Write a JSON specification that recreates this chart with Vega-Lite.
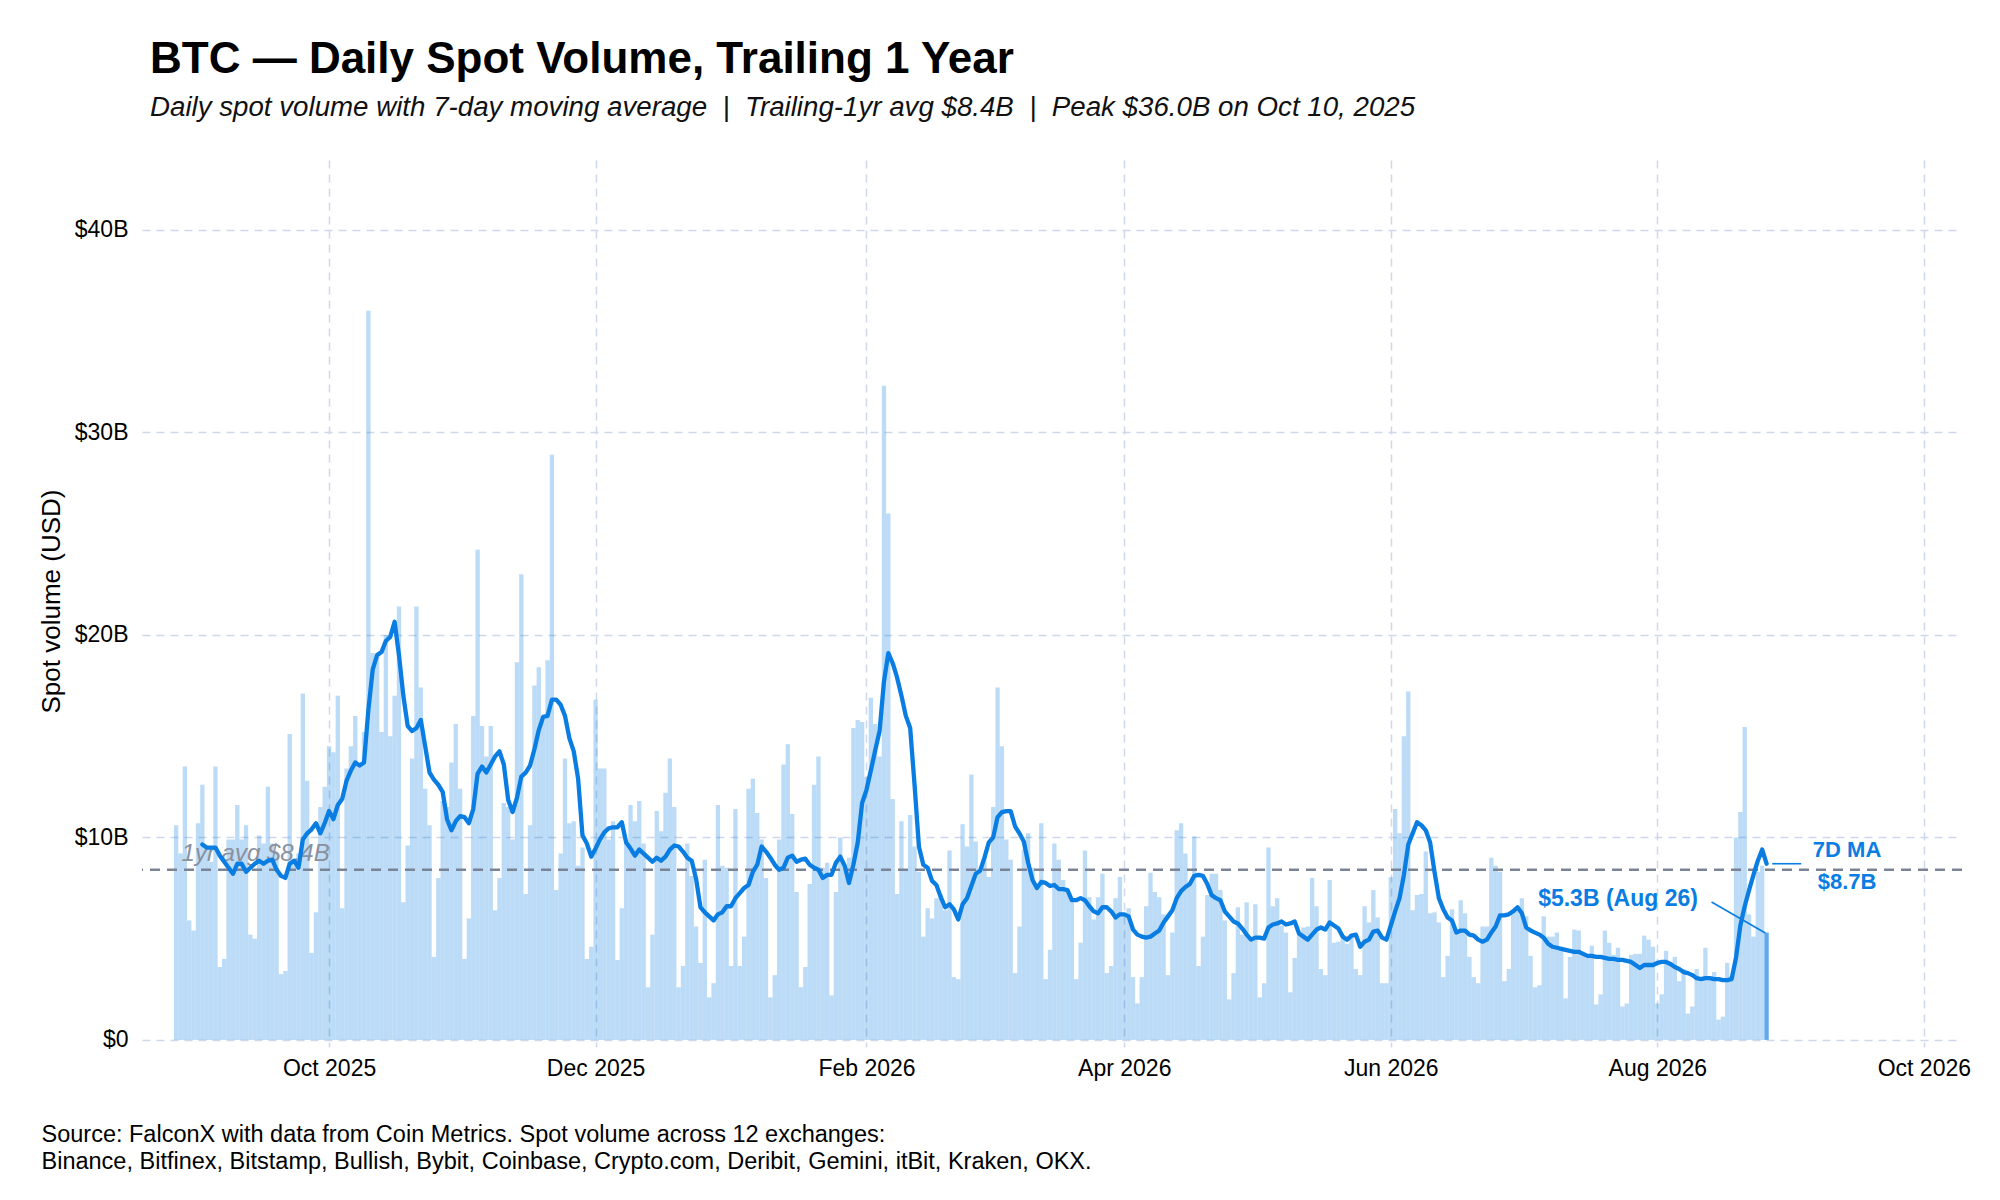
{
"$schema": "https://vega.github.io/schema/vega-lite/v6.json",
"width": 1820,
"height": 887,
"autosize": {"type": "none"},
"padding": {"left": 142, "top": 160, "right": 38, "bottom": 153},
"background": "white",
"config": {"font": "Liberation Sans", "view": {"stroke": null}},
"title": {
  "text": "BTC — Daily Spot Volume, Trailing 1 Year",
  "subtitle": "Daily spot volume with 7-day moving average\u00a0\u00a0|\u00a0\u00a0Trailing-1yr avg $8.4B\u00a0\u00a0|\u00a0\u00a0Peak $36.0B on Oct 10, 2025",
  "anchor": "start", "frame": "group", "dx": 8,
  "fontSize": 44, "fontWeight": "bold", "color": "#000000",
  "subtitleFontSize": 27.7, "subtitleFontStyle": "italic", "subtitleColor": "#111111",
  "subtitlePadding": 12, "offset": 38
},
"data": {"values": [
{"d":"2025-08-27","v":10.6,"m":null},{"d":"2025-08-28","v":9.2,"m":null},{"d":"2025-08-29","v":13.5,"m":null},{"d":"2025-08-30","v":5.9,"m":null},{"d":"2025-08-31","v":5.4,"m":null},
{"d":"2025-09-01","v":10.7,"m":null},{"d":"2025-09-02","v":12.6,"m":9.65},{"d":"2025-09-03","v":9.5,"m":9.5},{"d":"2025-09-04","v":8.8,"m":9.5},{"d":"2025-09-05","v":13.5,"m":9.5},{"d":"2025-09-06","v":3.6,"m":9.1},{"d":"2025-09-07","v":4.0,"m":8.8},{"d":"2025-09-08","v":9.9,"m":8.5},{"d":"2025-09-09","v":9.9,"m":8.2},{"d":"2025-09-10","v":11.6,"m":8.7},{"d":"2025-09-11","v":9.9,"m":8.7},{"d":"2025-09-12","v":10.6,"m":8.3},{"d":"2025-09-13","v":5.2,"m":8.5},{"d":"2025-09-14","v":5.0,"m":8.7},{"d":"2025-09-15","v":10.1,"m":8.85},{"d":"2025-09-16","v":9.7,"m":8.7},{"d":"2025-09-17","v":12.5,"m":8.85},{"d":"2025-09-18","v":9.7,"m":8.9},{"d":"2025-09-19","v":9.2,"m":8.4},{"d":"2025-09-20","v":3.25,"m":8.1},{"d":"2025-09-21","v":3.4,"m":8.0},{"d":"2025-09-22","v":15.1,"m":8.7},{"d":"2025-09-23","v":8.8,"m":8.85},{"d":"2025-09-24","v":9.2,"m":8.5},{"d":"2025-09-25","v":17.1,"m":9.9},{"d":"2025-09-26","v":12.8,"m":10.2},{"d":"2025-09-27","v":4.3,"m":10.4},{"d":"2025-09-28","v":6.3,"m":10.7},{"d":"2025-09-29","v":11.5,"m":10.2},{"d":"2025-09-30","v":12.5,"m":10.7},
{"d":"2025-10-01","v":14.5,"m":11.3},{"d":"2025-10-02","v":14.2,"m":10.9},{"d":"2025-10-03","v":17.0,"m":11.6},{"d":"2025-10-04","v":6.5,"m":11.9},{"d":"2025-10-05","v":13.4,"m":12.8},{"d":"2025-10-06","v":14.5,"m":13.3},{"d":"2025-10-07","v":16.0,"m":13.7},{"d":"2025-10-08","v":13.5,"m":13.55},{"d":"2025-10-09","v":15.2,"m":13.7},{"d":"2025-10-10","v":36.0,"m":16.3},{"d":"2025-10-11","v":19.1,"m":18.3},{"d":"2025-10-12","v":19.0,"m":19.0},{"d":"2025-10-13","v":15.2,"m":19.15},{"d":"2025-10-14","v":20.0,"m":19.7},{"d":"2025-10-15","v":15.0,"m":19.9},{"d":"2025-10-16","v":17.0,"m":20.65},{"d":"2025-10-17","v":21.4,"m":19.0},{"d":"2025-10-18","v":6.8,"m":17.0},{"d":"2025-10-19","v":9.6,"m":15.5},{"d":"2025-10-20","v":13.9,"m":15.25},{"d":"2025-10-21","v":21.4,"m":15.4},{"d":"2025-10-22","v":17.4,"m":15.8},{"d":"2025-10-23","v":12.4,"m":14.5},{"d":"2025-10-24","v":10.6,"m":13.2},{"d":"2025-10-25","v":4.1,"m":12.85},{"d":"2025-10-26","v":8.0,"m":12.6},{"d":"2025-10-27","v":11.8,"m":12.25},{"d":"2025-10-28","v":11.5,"m":10.9},{"d":"2025-10-29","v":13.7,"m":10.35},{"d":"2025-10-30","v":15.6,"m":10.8},{"d":"2025-10-31","v":12.4,"m":11.05},
{"d":"2025-11-01","v":4.0,"m":11.0},{"d":"2025-11-02","v":6.0,"m":10.7},{"d":"2025-11-03","v":16.0,"m":11.4},{"d":"2025-11-04","v":24.2,"m":13.15},{"d":"2025-11-05","v":15.5,"m":13.5},{"d":"2025-11-06","v":14.0,"m":13.2},{"d":"2025-11-07","v":15.5,"m":13.6},{"d":"2025-11-08","v":6.4,"m":14.0},{"d":"2025-11-09","v":8.0,"m":14.25},{"d":"2025-11-10","v":11.7,"m":13.6},{"d":"2025-11-11","v":11.5,"m":11.85},{"d":"2025-11-12","v":9.9,"m":11.25},{"d":"2025-11-13","v":18.65,"m":11.95},{"d":"2025-11-14","v":23.0,"m":13.0},{"d":"2025-11-15","v":7.2,"m":13.2},{"d":"2025-11-16","v":10.6,"m":13.55},{"d":"2025-11-17","v":17.5,"m":14.35},{"d":"2025-11-18","v":18.4,"m":15.3},{"d":"2025-11-19","v":15.9,"m":15.95},{"d":"2025-11-20","v":18.75,"m":16.0},{"d":"2025-11-21","v":28.9,"m":16.8},{"d":"2025-11-22","v":7.4,"m":16.8},{"d":"2025-11-23","v":9.2,"m":16.55},{"d":"2025-11-24","v":13.9,"m":16.0},{"d":"2025-11-25","v":10.7,"m":14.9},{"d":"2025-11-26","v":10.8,"m":14.25},{"d":"2025-11-27","v":8.6,"m":12.9},{"d":"2025-11-28","v":9.5,"m":10.1},{"d":"2025-11-29","v":4.0,"m":9.7},{"d":"2025-11-30","v":4.6,"m":9.05},
{"d":"2025-12-01","v":16.8,"m":9.45},{"d":"2025-12-02","v":13.4,"m":9.9},{"d":"2025-12-03","v":13.4,"m":10.25},{"d":"2025-12-04","v":9.9,"m":10.45},{"d":"2025-12-05","v":10.8,"m":10.5},{"d":"2025-12-06","v":3.95,"m":10.5},{"d":"2025-12-07","v":6.5,"m":10.75},{"d":"2025-12-08","v":9.9,"m":9.75},{"d":"2025-12-09","v":11.6,"m":9.45},{"d":"2025-12-10","v":10.8,"m":9.1},{"d":"2025-12-11","v":11.8,"m":9.4},{"d":"2025-12-12","v":9.7,"m":9.2},{"d":"2025-12-13","v":2.6,"m":9.0},{"d":"2025-12-14","v":5.2,"m":8.8},{"d":"2025-12-15","v":11.3,"m":9.0},{"d":"2025-12-16","v":10.3,"m":8.85},{"d":"2025-12-17","v":12.2,"m":9.05},{"d":"2025-12-18","v":13.9,"m":9.4},{"d":"2025-12-19","v":11.5,"m":9.6},{"d":"2025-12-20","v":2.6,"m":9.55},{"d":"2025-12-21","v":3.65,"m":9.3},{"d":"2025-12-22","v":9.7,"m":9.0},{"d":"2025-12-23","v":8.1,"m":8.85},{"d":"2025-12-24","v":5.6,"m":7.95},{"d":"2025-12-25","v":3.8,"m":6.55},{"d":"2025-12-26","v":8.9,"m":6.3},{"d":"2025-12-27","v":2.1,"m":6.1},{"d":"2025-12-28","v":2.8,"m":5.9},{"d":"2025-12-29","v":11.6,"m":6.2},{"d":"2025-12-30","v":8.6,"m":6.3},{"d":"2025-12-31","v":8.5,"m":6.6},
{"d":"2026-01-01","v":3.65,"m":6.6},{"d":"2026-01-02","v":11.4,"m":7.0},{"d":"2026-01-03","v":3.65,"m":7.25},{"d":"2026-01-04","v":5.1,"m":7.5},{"d":"2026-01-05","v":12.4,"m":7.65},{"d":"2026-01-06","v":12.9,"m":8.3},{"d":"2026-01-07","v":11.2,"m":8.65},{"d":"2026-01-08","v":9.9,"m":9.55},{"d":"2026-01-09","v":8.0,"m":9.3},{"d":"2026-01-10","v":2.1,"m":9.0},{"d":"2026-01-11","v":3.2,"m":8.65},{"d":"2026-01-12","v":9.9,"m":8.4},{"d":"2026-01-13","v":13.6,"m":8.5},{"d":"2026-01-14","v":14.6,"m":9.0},{"d":"2026-01-15","v":11.15,"m":9.1},{"d":"2026-01-16","v":7.3,"m":8.8},{"d":"2026-01-17","v":2.6,"m":8.9},{"d":"2026-01-18","v":3.6,"m":8.95},{"d":"2026-01-19","v":7.7,"m":8.65},{"d":"2026-01-20","v":12.6,"m":8.5},{"d":"2026-01-21","v":14.0,"m":8.4},{"d":"2026-01-22","v":8.5,"m":8.0},{"d":"2026-01-23","v":8.75,"m":8.15},{"d":"2026-01-24","v":2.2,"m":8.15},{"d":"2026-01-25","v":7.3,"m":8.75},{"d":"2026-01-26","v":10.0,"m":9.05},{"d":"2026-01-27","v":8.5,"m":8.6},{"d":"2026-01-28","v":9.0,"m":7.75},{"d":"2026-01-29","v":15.4,"m":8.65},{"d":"2026-01-30","v":15.8,"m":9.75},{"d":"2026-01-31","v":15.7,"m":11.7},
{"d":"2026-02-01","v":13.0,"m":12.35},{"d":"2026-02-02","v":16.9,"m":13.3},{"d":"2026-02-03","v":15.6,"m":14.3},{"d":"2026-02-04","v":14.0,"m":15.25},{"d":"2026-02-05","v":32.3,"m":17.7},{"d":"2026-02-06","v":26.0,"m":19.1},{"d":"2026-02-07","v":11.9,"m":18.6},{"d":"2026-02-08","v":7.2,"m":17.9},{"d":"2026-02-09","v":10.8,"m":17.0},{"d":"2026-02-10","v":8.4,"m":16.0},{"d":"2026-02-11","v":11.1,"m":15.4},{"d":"2026-02-12","v":9.55,"m":12.6},{"d":"2026-02-13","v":8.3,"m":9.55},{"d":"2026-02-14","v":5.1,"m":8.65},{"d":"2026-02-15","v":6.5,"m":8.5},{"d":"2026-02-16","v":6.0,"m":7.85},{"d":"2026-02-17","v":7.0,"m":7.65},{"d":"2026-02-18","v":7.2,"m":7.05},{"d":"2026-02-19","v":6.4,"m":6.55},{"d":"2026-02-20","v":9.35,"m":6.7},{"d":"2026-02-21","v":3.1,"m":6.45},{"d":"2026-02-22","v":3.0,"m":5.95},{"d":"2026-02-23","v":10.65,"m":6.7},{"d":"2026-02-24","v":9.55,"m":7.0},{"d":"2026-02-25","v":13.1,"m":7.6},{"d":"2026-02-26","v":9.8,"m":8.2},{"d":"2026-02-27","v":8.3,"m":8.35},{"d":"2026-02-28","v":9.0,"m":9.0},
{"d":"2026-03-01","v":8.05,"m":9.75},{"d":"2026-03-02","v":11.5,"m":10.0},{"d":"2026-03-03","v":17.4,"m":11.0},{"d":"2026-03-04","v":14.5,"m":11.25},{"d":"2026-03-05","v":9.9,"m":11.3},{"d":"2026-03-06","v":8.9,"m":11.3},{"d":"2026-03-07","v":3.3,"m":10.55},{"d":"2026-03-08","v":5.6,"m":10.2},{"d":"2026-03-09","v":9.4,"m":9.8},{"d":"2026-03-10","v":10.2,"m":8.75},{"d":"2026-03-11","v":8.5,"m":7.9},{"d":"2026-03-12","v":7.6,"m":7.5},{"d":"2026-03-13","v":10.7,"m":7.8},{"d":"2026-03-14","v":3.0,"m":7.75},{"d":"2026-03-15","v":4.45,"m":7.6},{"d":"2026-03-16","v":9.7,"m":7.65},{"d":"2026-03-17","v":8.9,"m":7.45},{"d":"2026-03-18","v":7.9,"m":7.45},{"d":"2026-03-19","v":7.4,"m":7.4},{"d":"2026-03-20","v":7.0,"m":6.9},{"d":"2026-03-21","v":3.0,"m":6.9},{"d":"2026-03-22","v":4.8,"m":7.0},{"d":"2026-03-23","v":9.35,"m":6.9},{"d":"2026-03-24","v":7.05,"m":6.6},{"d":"2026-03-25","v":5.95,"m":6.35},{"d":"2026-03-26","v":7.05,"m":6.25},{"d":"2026-03-27","v":8.2,"m":6.55},{"d":"2026-03-28","v":3.3,"m":6.55},{"d":"2026-03-29","v":3.65,"m":6.35},{"d":"2026-03-30","v":7.0,"m":6.05},{"d":"2026-03-31","v":8.05,"m":6.2},
{"d":"2026-04-01","v":6.2,"m":6.2},{"d":"2026-04-02","v":6.5,"m":6.1},{"d":"2026-04-03","v":3.1,"m":5.45},{"d":"2026-04-04","v":1.8,"m":5.2},{"d":"2026-04-05","v":3.1,"m":5.1},{"d":"2026-04-06","v":6.6,"m":5.05},{"d":"2026-04-07","v":8.25,"m":5.1},{"d":"2026-04-08","v":7.3,"m":5.25},{"d":"2026-04-09","v":7.05,"m":5.4},{"d":"2026-04-10","v":6.2,"m":5.8},{"d":"2026-04-11","v":3.2,"m":6.1},{"d":"2026-04-12","v":5.3,"m":6.4},{"d":"2026-04-13","v":10.35,"m":7.0},{"d":"2026-04-14","v":10.7,"m":7.35},{"d":"2026-04-15","v":9.2,"m":7.55},{"d":"2026-04-16","v":7.8,"m":7.7},{"d":"2026-04-17","v":10.05,"m":8.1},{"d":"2026-04-18","v":3.65,"m":8.15},{"d":"2026-04-19","v":5.1,"m":8.1},{"d":"2026-04-20","v":7.15,"m":7.7},{"d":"2026-04-21","v":8.2,"m":7.15},{"d":"2026-04-22","v":8.2,"m":7.0},{"d":"2026-04-23","v":7.4,"m":6.9},{"d":"2026-04-24","v":5.9,"m":6.35},{"d":"2026-04-25","v":2.0,"m":6.1},{"d":"2026-04-26","v":3.3,"m":5.85},{"d":"2026-04-27","v":6.55,"m":5.75},{"d":"2026-04-28","v":5.2,"m":5.5},{"d":"2026-04-29","v":6.8,"m":5.2},{"d":"2026-04-30","v":5.1,"m":4.95},
{"d":"2026-05-01","v":6.7,"m":5.05},{"d":"2026-05-02","v":2.1,"m":5.05},{"d":"2026-05-03","v":2.8,"m":5.0},{"d":"2026-05-04","v":9.5,"m":5.55},{"d":"2026-05-05","v":6.6,"m":5.7},{"d":"2026-05-06","v":7.0,"m":5.75},{"d":"2026-05-07","v":5.65,"m":5.85},{"d":"2026-05-08","v":5.3,"m":5.7},{"d":"2026-05-09","v":2.35,"m":5.75},{"d":"2026-05-10","v":4.05,"m":5.85},{"d":"2026-05-11","v":5.3,"m":5.25},{"d":"2026-05-12","v":5.55,"m":5.1},{"d":"2026-05-13","v":5.6,"m":4.95},{"d":"2026-05-14","v":8.0,"m":5.2},{"d":"2026-05-15","v":6.6,"m":5.45},{"d":"2026-05-16","v":3.5,"m":5.55},{"d":"2026-05-17","v":3.2,"m":5.45},{"d":"2026-05-18","v":7.9,"m":5.8},{"d":"2026-05-19","v":4.8,"m":5.65},{"d":"2026-05-20","v":4.85,"m":5.5},{"d":"2026-05-21","v":5.0,"m":5.1},{"d":"2026-05-22","v":4.75,"m":4.95},{"d":"2026-05-23","v":5.25,"m":5.15},{"d":"2026-05-24","v":3.5,"m":5.2},{"d":"2026-05-25","v":3.2,"m":4.6},{"d":"2026-05-26","v":6.6,"m":4.85},{"d":"2026-05-27","v":5.8,"m":4.95},{"d":"2026-05-28","v":7.4,"m":5.35},{"d":"2026-05-29","v":6.05,"m":5.4},{"d":"2026-05-30","v":2.8,"m":5.05},{"d":"2026-05-31","v":2.8,"m":4.95},
{"d":"2026-06-01","v":8.05,"m":5.65},{"d":"2026-06-02","v":11.4,"m":6.35},{"d":"2026-06-03","v":10.2,"m":7.0},{"d":"2026-06-04","v":15.0,"m":8.15},{"d":"2026-06-05","v":17.2,"m":9.65},{"d":"2026-06-06","v":6.4,"m":10.2},{"d":"2026-06-07","v":7.15,"m":10.75},{"d":"2026-06-08","v":7.2,"m":10.6},{"d":"2026-06-09","v":9.3,"m":10.35},{"d":"2026-06-10","v":6.25,"m":9.75},{"d":"2026-06-11","v":6.3,"m":8.3},{"d":"2026-06-12","v":5.8,"m":7.0},{"d":"2026-06-13","v":3.1,"m":6.45},{"d":"2026-06-14","v":4.15,"m":6.05},{"d":"2026-06-15","v":6.45,"m":5.9},{"d":"2026-06-16","v":5.3,"m":5.3},{"d":"2026-06-17","v":6.9,"m":5.4},{"d":"2026-06-18","v":6.25,"m":5.4},{"d":"2026-06-19","v":4.1,"m":5.2},{"d":"2026-06-20","v":3.1,"m":5.15},{"d":"2026-06-21","v":2.8,"m":4.95},{"d":"2026-06-22","v":5.6,"m":4.85},{"d":"2026-06-23","v":5.6,"m":4.95},{"d":"2026-06-24","v":9.0,"m":5.3},{"d":"2026-06-25","v":8.6,"m":5.6},{"d":"2026-06-26","v":8.3,"m":6.15},{"d":"2026-06-27","v":2.9,"m":6.15},{"d":"2026-06-28","v":3.5,"m":6.2},{"d":"2026-06-29","v":6.35,"m":6.35},{"d":"2026-06-30","v":6.4,"m":6.55},
{"d":"2026-07-01","v":7.0,"m":6.25},{"d":"2026-07-02","v":6.1,"m":5.55},{"d":"2026-07-03","v":4.15,"m":5.4},{"d":"2026-07-04","v":2.6,"m":5.3},{"d":"2026-07-05","v":2.7,"m":5.2},{"d":"2026-07-06","v":6.1,"m":5.05},{"d":"2026-07-07","v":5.1,"m":4.75},{"d":"2026-07-08","v":5.1,"m":4.6},{"d":"2026-07-09","v":5.3,"m":4.55},{"d":"2026-07-10","v":4.6,"m":4.5},{"d":"2026-07-11","v":2.05,"m":4.45},{"d":"2026-07-12","v":4.1,"m":4.4},{"d":"2026-07-13","v":5.45,"m":4.35},{"d":"2026-07-14","v":5.4,"m":4.35},{"d":"2026-07-15","v":4.35,"m":4.25},{"d":"2026-07-16","v":4.05,"m":4.15},{"d":"2026-07-17","v":4.65,"m":4.15},{"d":"2026-07-18","v":1.75,"m":4.1},{"d":"2026-07-19","v":2.25,"m":4.1},{"d":"2026-07-20","v":5.4,"m":4.05},{"d":"2026-07-21","v":4.8,"m":4.0},{"d":"2026-07-22","v":4.2,"m":4.0},{"d":"2026-07-23","v":4.55,"m":3.95},{"d":"2026-07-24","v":1.65,"m":3.95},{"d":"2026-07-25","v":1.8,"m":3.9},{"d":"2026-07-26","v":4.2,"m":3.85},{"d":"2026-07-27","v":4.25,"m":3.7},{"d":"2026-07-28","v":4.25,"m":3.55},{"d":"2026-07-29","v":5.15,"m":3.7},{"d":"2026-07-30","v":4.95,"m":3.7},{"d":"2026-07-31","v":4.6,"m":3.7},
{"d":"2026-08-01","v":1.8,"m":3.8},{"d":"2026-08-02","v":2.25,"m":3.85},{"d":"2026-08-03","v":4.4,"m":3.85},{"d":"2026-08-04","v":3.85,"m":3.75},{"d":"2026-08-05","v":4.1,"m":3.6},{"d":"2026-08-06","v":2.9,"m":3.5},{"d":"2026-08-07","v":3.5,"m":3.35},{"d":"2026-08-08","v":1.3,"m":3.3},{"d":"2026-08-09","v":1.65,"m":3.2},{"d":"2026-08-10","v":3.5,"m":3.05},{"d":"2026-08-11","v":2.9,"m":3.0},{"d":"2026-08-12","v":4.55,"m":3.05},{"d":"2026-08-13","v":3.05,"m":3.05},{"d":"2026-08-14","v":3.35,"m":3.0},{"d":"2026-08-15","v":1.0,"m":3.0},{"d":"2026-08-16","v":1.15,"m":2.95},{"d":"2026-08-17","v":3.8,"m":2.95},{"d":"2026-08-18","v":3.15,"m":3.0},{"d":"2026-08-19","v":10.0,"m":4.05},{"d":"2026-08-20","v":11.25,"m":5.65},{"d":"2026-08-21","v":15.45,"m":6.6},{"d":"2026-08-22","v":6.2,"m":7.4},{"d":"2026-08-23","v":5.1,"m":8.15},{"d":"2026-08-24","v":8.3,"m":8.85},{"d":"2026-08-25","v":8.6,"m":9.4},{"d":"2026-08-26","v":5.3,"m":8.7}
]},
"layer": [
{
  "mark": {"type": "bar", "width": 4.3, "color": "#0a7de3"},
  "encoding": {
    "x": {"field": "d", "type": "temporal",
      "scale": {"type": "utc", "domain": [{"year": 2025, "month": 8, "date": 20, "hours": 8, "utc": true}, {"year": 2026, "month": 10, "date": 8, "hours": 14, "utc": true}]},
      "axis": {
        "values": [{"year": 2025, "month": 10, "date": 1, "utc": true}, {"year": 2025, "month": 12, "date": 1, "utc": true}, {"year": 2026, "month": 2, "date": 1, "utc": true}, {"year": 2026, "month": 4, "date": 1, "utc": true}, {"year": 2026, "month": 6, "date": 1, "utc": true}, {"year": 2026, "month": 8, "date": 1, "utc": true}, {"year": 2026, "month": 10, "date": 1, "utc": true}],
        "format": "%b %Y", "labelFontSize": 23, "labelColor": "#000000", "labelPadding": 10, "labelOverlap": false, "labelFlush": false,
        "grid": true, "gridColor": "#cdd8ea", "gridDash": [8, 6], "gridWidth": 1.5,
        "domain": false, "ticks": false,
        "title": ["Source: FalconX with data from Coin Metrics. Spot volume across 12 exchanges:", "Binance, Bitfinex, Bitstamp, Bullish, Bybit, Coinbase, Crypto.com, Deribit, Gemini, itBit, Kraken, OKX."],
        "titleFontSize": 23.5, "titleFontWeight": "normal", "titleColor": "#000000",
        "titleAnchor": "start", "titleAlign": "left", "titleBaseline": "alphabetic",
        "titleX": -101, "titleY": 94, "titleLineHeight": 27
      }},
    "y": {"field": "v", "type": "quantitative",
      "scale": {"domain": [-0.35, 43.45], "nice": false, "zero": false},
      "axis": {
        "values": [0, 10, 20, 30, 40],
        "labelExpr": "datum.value == 0 ? '$0' : '$' + datum.value + 'B'",
        "labelFontSize": 23, "labelColor": "#000000", "labelPadding": 14,
        "grid": true, "gridColor": "#cdd8ea", "gridDash": [8, 6], "gridWidth": 1.5,
        "domain": false, "ticks": false,
        "title": "Spot volume (USD)", "titleFontSize": 26, "titleFontWeight": "normal", "titleColor": "#000000",
        "titleAlign": "center", "titleBaseline": "middle", "titleAngle": -90, "titleX": -91, "titleY": 441
      }},
    "opacity": {"condition": {"test": "utcyear(datum.d) == 2026 && utcmonth(datum.d) == 7 && utcdate(datum.d) == 26", "value": 0.66}, "value": 0.28}
  }
},
{
  "data": {"values": [{}]},
  "mark": {"type": "rule", "color": "#7a8496", "strokeWidth": 2.6, "strokeDash": [10, 7]},
  "encoding": {"y": {"datum": 8.4}}
},
{
  "data": {"values": [{}]},
  "mark": {"type": "text", "text": "1yr avg $8.4B", "fontStyle": "italic", "fontSize": 24, "color": "#8a909c", "align": "left", "baseline": "alphabetic"},
  "encoding": {
    "x": {"datum": {"year": 2025, "month": 8, "date": 28, "hours": 6, "utc": true}, "type": "temporal"},
    "y": {"datum": 8.85}
  }
},
{
  "mark": {"type": "line", "color": "#0a7de3", "strokeWidth": 4.3, "strokeJoin": "round", "strokeCap": "round"},
  "encoding": {
    "x": {"field": "d", "type": "temporal"},
    "y": {"field": "m", "type": "quantitative"}
  }
},
{
  "data": {"values": [{}]},
  "mark": {"type": "rule", "color": "#0a7de3", "strokeWidth": 1.6},
  "encoding": {
    "x": {"datum": {"year": 2026, "month": 8, "date": 27, "hours": 7, "utc": true}, "type": "temporal"},
    "x2": {"datum": {"year": 2026, "month": 9, "date": 2, "hours": 22, "utc": true}},
    "y": {"datum": 8.7}
  }
},
{
  "data": {"values": [{}]},
  "mark": {"type": "rule", "color": "#0a7de3", "strokeWidth": 1.5},
  "encoding": {
    "x": {"datum": {"year": 2026, "month": 8, "date": 13, "hours": 10, "utc": true}, "type": "temporal"},
    "x2": {"datum": {"year": 2026, "month": 8, "date": 25, "hours": 17, "utc": true}},
    "y": {"datum": 6.81},
    "y2": {"datum": 5.28}
  }
},
{
  "data": {"values": [{}]},
  "mark": {"type": "text", "text": "7D MA", "fontWeight": "bold", "fontSize": 22, "color": "#0a7de3", "align": "center", "baseline": "alphabetic"},
  "encoding": {
    "x": {"datum": {"year": 2026, "month": 9, "date": 13, "hours": 10, "utc": true}, "type": "temporal"},
    "y": {"datum": 9.04}
  }
},
{
  "data": {"values": [{}]},
  "mark": {"type": "text", "text": "$8.7B", "fontWeight": "bold", "fontSize": 22, "color": "#0a7de3", "align": "center", "baseline": "alphabetic"},
  "encoding": {
    "x": {"datum": {"year": 2026, "month": 9, "date": 13, "hours": 10, "utc": true}, "type": "temporal"},
    "y": {"datum": 7.46}
  }
},
{
  "data": {"values": [{}]},
  "mark": {"type": "text", "text": "$5.3B (Aug 26)", "fontWeight": "bold", "fontSize": 23, "color": "#0a7de3", "align": "center", "baseline": "alphabetic"},
  "encoding": {
    "x": {"datum": {"year": 2026, "month": 7, "date": 23, "utc": true}, "type": "temporal"},
    "y": {"datum": 6.62}
  }
}
]
}
